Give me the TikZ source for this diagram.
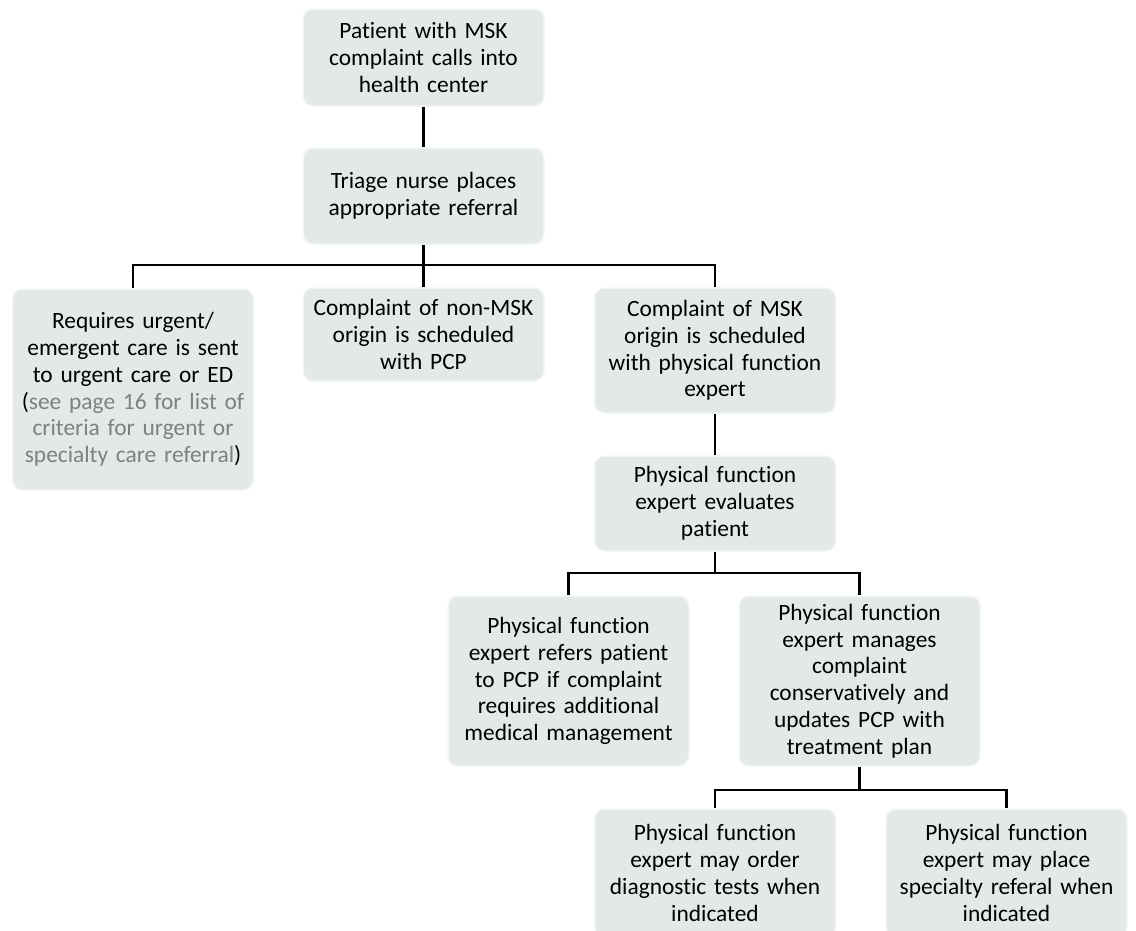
\documentclass[tikz,border=0pt]{standalone}
\usepackage{fontspec}
\setmainfont{Carlito}[Ligatures=NoCommon]
\definecolor{boxfill}{RGB}{227,233,232}
\definecolor{boxrim}{RGB}{244,246,246}
\definecolor{notegray}{RGB}{128,128,128}
\begin{document}
\begin{tikzpicture}[x=1pt,y=-1pt,
  flowbox/.style={rectangle, rounded corners=10pt, fill=boxfill, draw=boxrim,
    line width=1.5pt, minimum width=241pt, text width=229pt, inner xsep=6pt,
    inner ysep=0pt, align=center,
    font=\fontsize{23.4}{26.8}\selectfont},
  link/.style={draw=black, line width=2.6pt}]
\useasboundingbox (0,0) rectangle (1136,930);

\node[flowbox, minimum height=97pt] (pat) at (423.5,57.5)
  {Patient with MSK\\complaint calls into\\health center};
\node[flowbox, minimum height=96pt] (tri) at (423.5,196)
  {Triage nurse places\\appropriate referral};
\node[flowbox, minimum height=201pt] (req) at (133,389.5)
  {Requires urgent/\\emergent care is sent\\to urgent care or ED\\(\textcolor{notegray}{see page 16 for list of}\\\textcolor{notegray}{criteria for urgent or}\\\textcolor{notegray}{specialty care referral})};
\node[flowbox, minimum height=93pt] (non) at (423.5,334.5)
  {Complaint of non-MSK\\origin is scheduled\\with PCP};
\node[flowbox, minimum height=125pt] (msk) at (715,350.5)
  {Complaint of MSK\\origin is scheduled\\with physical function\\expert};
\node[flowbox, minimum height=95pt] (eva) at (715,503.5)
  {Physical function\\expert evaluates\\patient};
\node[flowbox, minimum height=170pt] (ref) at (568.5,681)
  {Physical function\\expert refers patient\\to PCP if complaint\\requires additional\\medical management};
\node[flowbox, minimum height=170pt] (man) at (859.5,681)
  {Physical function\\expert manages\\complaint\\conservatively and\\updates PCP with\\treatment plan};
\node[flowbox, minimum height=128pt] (ord) at (715,873)
  {Physical function\\expert may order\\diagnostic tests when\\indicated};
\node[flowbox, minimum height=128pt] (pla) at (1006.5,873)
  {Physical function\\expert may place\\specialty referal when\\indicated};

\coordinate (j1) at (423.5,265);
\coordinate (j2) at (715,573);
\coordinate (j3) at (859.5,790);

\draw[link] (pat.south) -- (tri.north);
\draw[link] (tri.south) -- (non.north);
\draw[link] (req.north) |- (j1) -| (msk.north);
\draw[link] (msk.south) -- (eva.north);
\draw[link] (eva.south) -- (j2);
\draw[link] (ref.north) |- (j2) -| (man.north);
\draw[link] (man.south) -- (j3);
\draw[link] (ord.north) |- (j3) -| (pla.north);
\end{tikzpicture}
\end{document}
